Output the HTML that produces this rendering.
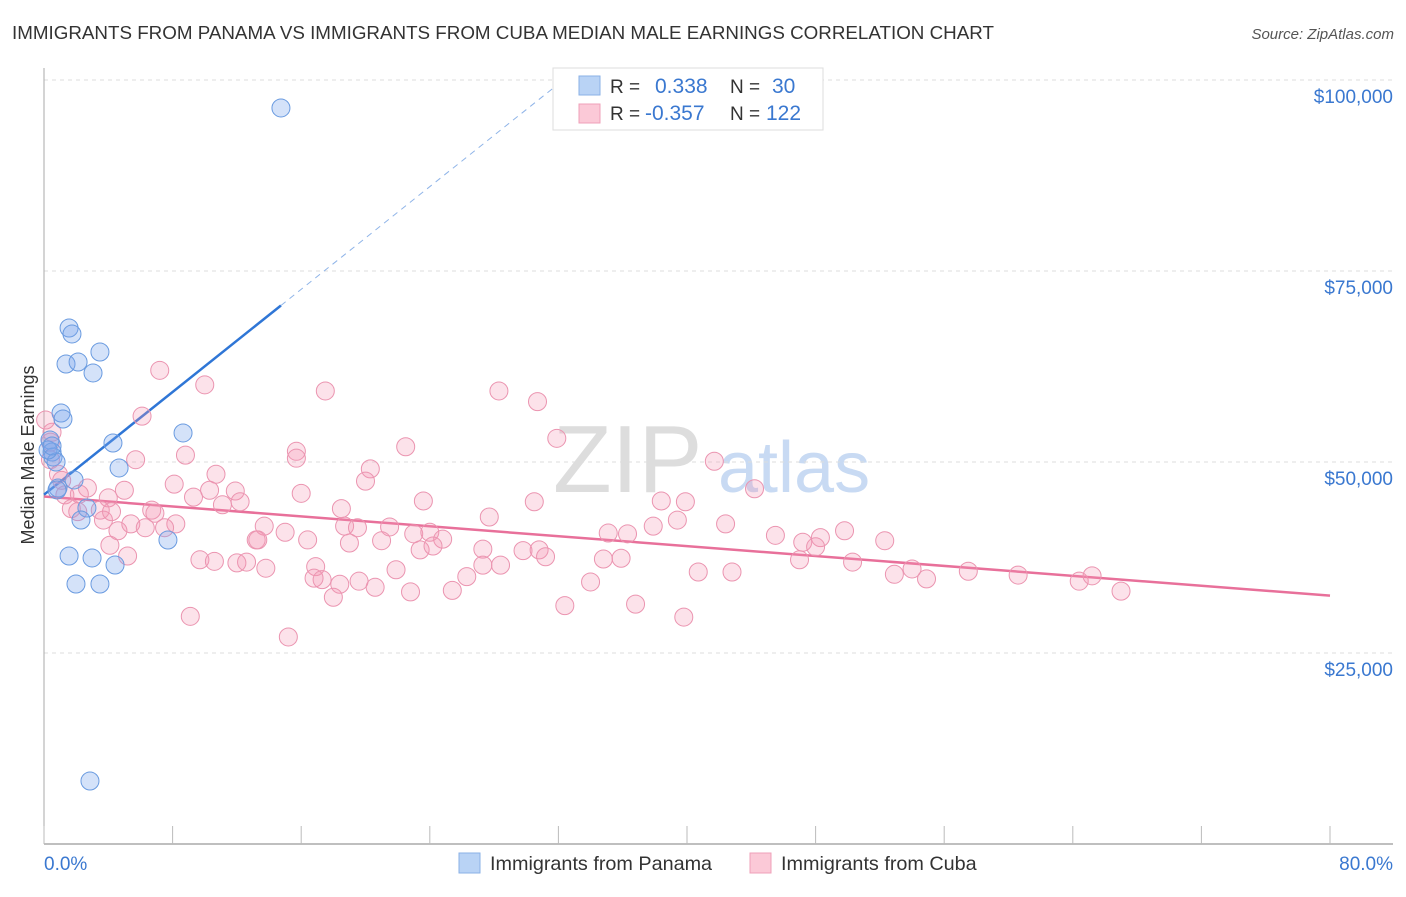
<!DOCTYPE html>
<html><head><meta charset="utf-8"><style>
body{margin:0;background:#fff;font-family:"Liberation Sans",sans-serif;}
svg text{font-family:"Liberation Sans",sans-serif;}
</style></head><body>
<svg id="chart" width="1406" height="892">
<text x="12" y="39" font-size="18.8" fill="#333">IMMIGRANTS FROM PANAMA VS IMMIGRANTS FROM CUBA MEDIAN MALE EARNINGS CORRELATION CHART</text>
<text x="1394" y="39" font-size="15" fill="#555" font-style="italic" text-anchor="end">Source: ZipAtlas.com</text>
<text transform="translate(34,455) rotate(-90)" font-size="18" fill="#333" text-anchor="middle">Median Male Earnings</text>
<g><text x="553" y="492" font-size="96" fill="#ddd" font-family="Liberation Serif">ZIP</text><text x="718" y="492" font-size="72" fill="#c8daf3">atlas</text></g>
<g id="grid"></g><g id="axes"></g><g id="trend"></g><g id="pts"></g>
<g>
<rect x="553" y="68" width="270" height="62" fill="#fff" stroke="#ddd"/>
<rect x="579" y="76" width="21" height="19" fill="#b9d3f5" stroke="#8ab0e6"/>
<rect x="579" y="104" width="21" height="19" fill="#fbc9d7" stroke="#efa0b8"/>
<text x="610" y="93" font-size="19" fill="#333">R =</text><text x="655" y="93" font-size="21" fill="#3a78d0">0.338</text>
<text x="730" y="93" font-size="19" fill="#333">N =</text><text x="772" y="93" font-size="21" fill="#3a78d0">30</text>
<text x="610" y="120" font-size="19" fill="#333">R =</text><text x="645" y="120" font-size="21" fill="#3a78d0">-0.357</text>
<text x="730" y="120" font-size="19" fill="#333">N =</text><text x="766" y="120" font-size="21" fill="#3a78d0">122</text>
</g>
<g>
<rect x="459" y="853" width="21" height="20" fill="#b9d3f5" stroke="#8ab0e6"/>
<text x="490" y="870" font-size="19.8" fill="#333">Immigrants from Panama</text>
<rect x="750" y="853" width="21" height="20" fill="#fbc9d7" stroke="#efa0b8"/>
<text x="781" y="870" font-size="19.8" fill="#333">Immigrants from Cuba</text>
</g>
</svg>
<script>
const yTicks=[25000,50000,75000,100000];
const yTickLabels=["$25,000","$50,000","$75,000","$100,000"];
const xTickLabels=["0.0%","80.0%"];
const panamaX=[14.74,1.56,1.74,3.48,1.37,2.12,3.05,1.06,1.18,8.65,4.29,0.37,0.50,0.56,4.67,0.75,1.87,0.87,2.67,2.30,7.71,1.56,2.99,4.42,1.99,3.48,2.86,0.25,0.5,0.81];
const panamaY=[96340,67540,66760,64400,62830,63090,61650,56410,55630,53800,52490,52880,51310,50660,49220,50000,47650,46600,43980,42410,39790,37700,37440,36520,34030,34030,8250,51570,52100,46340];
const cubaX=[7.2,10.0,17.5,28.3,30.7,6.1,31.9,22.5,0.5,0.4,15.7,15.7,8.8,5.7,20.3,20.0,10.7,41.7,44.2,0.9,2.7,5.0,10.3,8.1,16.0,11.9,9.3,4.0,1.3,23.6,30.5,38.4,39.9,18.5,11.1,12.2,6.7,6.9,1.7,3.5,4.6,5.4,6.3,8.2,7.5,4.1,13.7,15.0,18.7,19.5,21.5,27.7,39.4,37.9,42.4,45.5,35.1,36.3,47.2,48.3,49.8,52.3,48.0,23.0,24.0,24.8,13.2,13.3,16.4,19.0,21.0,23.4,24.2,27.3,29.8,30.8,31.2,34.8,35.9,47.0,50.3,27.3,28.4,21.9,16.9,12.0,9.7,10.6,12.6,13.8,17.3,16.8,18.4,19.6,20.6,26.3,25.4,22.8,34.0,40.7,42.8,52.9,54.0,54.9,57.5,60.6,64.4,65.2,67.0,5.2,18.0,9.1,32.4,36.8,39.8,15.2,0.1,0.4,1.1,2.2,3.7,4.2,2.1];
const cubaY=[62000,60100,59300,59300,57900,56000,53100,52000,53900,52600,51400,50500,50900,50300,49100,47500,48400,50100,46500,48400,46600,46300,46300,47100,45900,46200,45400,45300,45700,44900,44800,44900,44800,43900,44400,44800,43700,43300,43900,43700,41000,41900,41400,41900,41400,39100,41600,40800,41600,41400,41500,42800,42400,41600,41900,40400,40700,40600,39500,40100,41000,39700,38900,40600,40800,39900,39800,39800,39800,39400,39700,38500,39000,38600,38400,38500,37600,37300,37400,37200,36900,36500,36500,35900,36300,36800,37200,37000,36900,36100,34600,34800,34000,34400,33600,35000,33200,33000,34300,35600,35600,35300,36000,34700,35700,35200,34400,35100,33100,37700,32300,29800,31200,31400,29700,27100,55500,50300,47600,45800,42400,43500,43500];
const NS="http://www.w3.org/2000/svg";
const X0=44,X1=1330,Y0=844,PX=(X1-X0)/80,PY=191/25000;
const sx=v=>X0+v*PX, sy=v=>Y0-v*PY;
function mk(tag,attrs,parent){const e=document.createElementNS(NS,tag);for(const k in attrs)e.setAttribute(k,attrs[k]);parent.appendChild(e);return e;}
const grid=document.getElementById('grid'),axes=document.getElementById('axes'),trend=document.getElementById('trend'),pts=document.getElementById('pts');
yTicks.forEach((t,i)=>{
 const l=mk('line',{x1:X0,x2:1393,y1:sy(t),y2:sy(t),stroke:'#ddd','stroke-dasharray':'4,4'},grid);
 
 
 const tx=mk('text',{x:1393,y:sy(t)+23,'font-size':19,fill:'#3a78d0','text-anchor':'end'},axes);tx.textContent=yTickLabels[i];
 
 
});
mk('line',{x1:X0,x2:X0,y1:68,y2:Y0,stroke:'#aaa'},axes);
const xa=mk('line',{x1:X0,x2:1393,y1:Y0,y2:Y0,stroke:'#aaa','stroke-width':1.5},axes);


for(let i=0;i<=10;i++){const tk=mk('line',{x1:sx(i*8),x2:sx(i*8),y1:Y0-18,y2:Y0,stroke:'#bbb'},axes);
 
 }
let t1=mk('text',{x:44,y:870,'font-size':19,fill:'#3a78d0'},axes);t1.textContent=xTickLabels[0];


let t2=mk('text',{x:1393,y:870,'font-size':19,fill:'#3a78d0','text-anchor':'end'},axes);t2.textContent=xTickLabels[1];


function reg(xs,ys){const n=xs.length;let mx=0,my=0;for(let i=0;i<n;i++){mx+=xs[i];my+=ys[i];}mx/=n;my/=n;let sxy=0,sxx=0;for(let i=0;i<n;i++){sxy+=(xs[i]-mx)*(ys[i]-my);sxx+=(xs[i]-mx)**2;}const b=sxy/sxx;return [my-b*mx,b];}
const [ca,cb]=reg(cubaX,cubaY);
const cl=mk('line',{x1:sx(0),y1:sy(ca),x2:sx(80),y2:sy(ca+cb*80),stroke:'#e8709a','stroke-width':2.5},trend);


const [pa,pb]=reg(panamaX,panamaY);
const pmax=Math.max(...panamaX);
const pl=mk('line',{x1:sx(0),y1:sy(pa),x2:sx(pmax),y2:sy(pa+pb*pmax),stroke:'#2f76d6','stroke-width':2.5},trend);


let xe=pb>0?Math.min(80,(100000-pa)/pb):80;
const pd=mk('line',{x1:sx(pmax),y1:sy(pa+pb*pmax),x2:sx(xe),y2:sy(pa+pb*xe),stroke:'#8fb4e8','stroke-width':1,'stroke-dasharray':'6,5'},trend);


cubaX.forEach((x,i)=>{const c=mk('circle',{cx:sx(x),cy:sy(cubaY[i]),r:9,fill:'rgba(244,150,180,0.28)',stroke:'#eb94b0','stroke-width':1},pts);
 
 });
panamaX.forEach((x,i)=>{const c=mk('circle',{cx:sx(x),cy:sy(panamaY[i]),r:9,fill:'rgba(120,165,235,0.32)',stroke:'#6a9be0','stroke-width':1},pts);
 
 });
</script>
</body></html>
